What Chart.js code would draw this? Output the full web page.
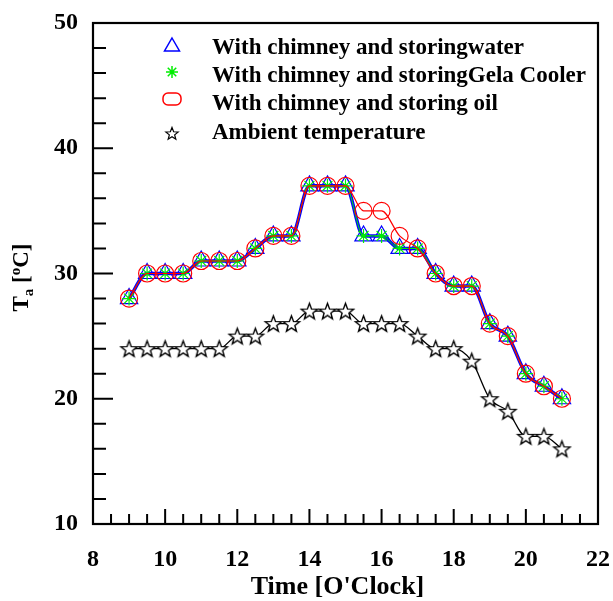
<!DOCTYPE html>
<html>
<head>
<meta charset="utf-8">
<script src="https://cdn.jsdelivr.net/npm/chart.js@4/dist/chart.umd.min.js"></script>
<style>
  html, body { margin: 0; padding: 0; background: #fff; }
  #wrap { width: 613px; height: 601px; }
</style>
</head>
<body>
<div id="wrap"><canvas id="myChart" width="613" height="601"></canvas></div>
<script>
// time of day [h]
var hours = [9, 9.5, 10, 10.5, 11, 11.5, 12, 12.5, 13, 13.5, 14, 14.5, 15,
             15.5, 16, 16.5, 17, 17.5, 18, 18.5, 19, 19.5, 20, 20.5, 21];

// air temperature Ta [oC]
var water_temp   = [28, 30, 30, 30, 31, 31, 31, 32, 33, 33, 37, 37, 37, 33, 33, 32, 32, 30, 29, 29, 26, 25, 22, 21, 20];
var gel_temp     = [28, 30, 30, 30, 31, 31, 31, 32, 33, 33, 37, 37, 37, 33, 33, 32, 32, 30, 29, 29, 26, 25, 22, 21, 20];
var oil_temp     = [28, 30, 30, 30, 31, 31, 31, 32, 33, 33, 37, 37, 37, 35, 35, 33, 32, 30, 29, 29, 26, 25, 22, 21, 20];
var ambient_temp = [24, 24, 24, 24, 24, 24, 25, 25, 26, 26, 27, 27, 27, 26, 26, 26, 25, 24, 24, 23, 20, 19, 17, 17, 16];

var y_ticks = [10, 20, 30, 40, 50];
var x_ticks = [8, 10, 12, 14, 16, 18, 20, 22];

var labels = ['With chimney and storingwater',
              'With chimney and storingGela Cooler',
              'With chimney and storing oil',
              'Ambient temperature'];

var serif = '"Liberation Serif", "Times New Roman", serif';

function to_points(vals) {
    var arr = [];
    for (var i = 0; i < hours.length; i++) {
        arr.push({x: hours[i], y: vals[i]});
    }
    return arr;
}

// outlined five point star, used for the ambient curve
function star_path(ctx, cx, cy, r_out, r_in) {
    ctx.beginPath();
    for (var k = 0; k < 10; k++) {
        var r = (k % 2 == 0) ? r_out : r_in;
        var a = -Math.PI / 2 + k * Math.PI / 5;
        var px = cx + r * Math.cos(a), py = cy + r * Math.sin(a);
        if (k == 0) ctx.moveTo(px, py); else ctx.lineTo(px, py);
    }
    ctx.closePath();
}

function make_star(r_out) {
    var size = Math.ceil(r_out * 2 + 4);
    var c = document.createElement('canvas');
    c.width = size; c.height = size;
    var g = c.getContext('2d');
    star_path(g, size / 2, size / 2 + 0.8, r_out, r_out * 0.42);
    g.fillStyle = '#fff';
    g.fill();
    g.lineWidth = 1.4;
    g.strokeStyle = '#000';
    g.stroke();
    return c;
}

var star_img = make_star(8.5);

// frame, inward ticks, legend and axis titles
var decorations = {
    id: 'decorations',
    afterDraw: function(chart) {
        var ctx = chart.ctx;
        var a = chart.chartArea;
        var xs = chart.scales.x, ys = chart.scales.y;
        ctx.save();
        ctx.strokeStyle = '#000';
        ctx.lineWidth = 2.2;
        ctx.strokeRect(a.left, a.top, a.right - a.left, a.bottom - a.top);

        ctx.lineWidth = 2;
        ctx.beginPath();
        for (var v = 10; v <= 50; v += 2) {
            var py = ys.getPixelForValue(v);
            var len = (v % 10 == 0) ? 20 : 13;
            ctx.moveTo(a.left, py);
            ctx.lineTo(a.left + len, py);
        }
        for (var h = 8; h <= 22; h += 0.5) {
            var px = xs.getPixelForValue(h);
            var len2 = (h % 2 == 0) ? 15 : 10;
            ctx.moveTo(px, a.bottom);
            ctx.lineTo(px, a.bottom - len2);
        }
        ctx.stroke();

        // legend
        var lx = 172, tx = 212;
        var rows = [45, 72, 99, 134];
        var base = [54, 82, 110, 139];
        ctx.fillStyle = '#000';
        ctx.font = 'bold 23px ' + serif;
        ctx.textBaseline = 'alphabetic';
        ctx.textAlign = 'left';
        for (var i = 0; i < labels.length; i++) {
            ctx.fillText(labels[i], tx, base[i]);
        }
        // triangle
        ctx.strokeStyle = '#0000ff';
        ctx.lineWidth = 1.5;
        ctx.beginPath();
        ctx.moveTo(lx, rows[0] - 7);
        ctx.lineTo(lx + 7.5, rows[0] + 6);
        ctx.lineTo(lx - 7.5, rows[0] + 6);
        ctx.closePath();
        ctx.stroke();
        // asterisk
        ctx.strokeStyle = '#00ee00';
        ctx.beginPath();
        for (var k = 0; k < 4; k++) {
            var ang = k * Math.PI / 4;
            ctx.moveTo(lx - 6 * Math.cos(ang), rows[1] - 6 * Math.sin(ang));
            ctx.lineTo(lx + 6 * Math.cos(ang), rows[1] + 6 * Math.sin(ang));
        }
        ctx.stroke();
        // rounded box for the oil series
        ctx.strokeStyle = '#ff0000';
        ctx.beginPath();
        ctx.roundRect(lx - 9, rows[2] - 6, 18, 12, 5);
        ctx.stroke();
        // star
        star_path(ctx, lx, rows[3], 6.5, 2.8);
        ctx.strokeStyle = '#000';
        ctx.lineWidth = 1.2;
        ctx.stroke();

        // axis titles
        ctx.fillStyle = '#000';
        ctx.font = 'bold 26px ' + serif;
        ctx.textAlign = 'center';
        ctx.textBaseline = 'alphabetic';
        ctx.fillText("Time [O'Clock]", (a.left + a.right) / 2 - 8, 594);

        ctx.translate(28, (a.top + a.bottom) / 2 + 4);
        ctx.rotate(-Math.PI / 2);
        var big = 'bold 23px ' + serif, small = 'bold 15px ' + serif;
        var parts = [['T', big, 0], ['a', small, 5], [' [', big, 0], ['o', small, -8], ['C]', big, 0]];
        var total = 0;
        for (var j = 0; j < parts.length; j++) {
            ctx.font = parts[j][1];
            total += ctx.measureText(parts[j][0]).width;
        }
        var cur = -total / 2;
        ctx.textAlign = 'left';
        for (var j2 = 0; j2 < parts.length; j2++) {
            ctx.font = parts[j2][1];
            ctx.fillText(parts[j2][0], cur, parts[j2][2]);
            cur += ctx.measureText(parts[j2][0]).width;
        }
        ctx.restore();
    }
};

var ctx = document.getElementById('myChart').getContext('2d');
var myChart = new Chart(ctx, {
    type: 'line',
    data: {
        datasets: [
            {
                label: labels[3],
                data: to_points(ambient_temp),
                borderColor: '#000',
                borderWidth: 1.3,
                pointStyle: star_img,
                cubicInterpolationMode: 'monotone',
                order: 4
            },
            {
                label: labels[0],
                data: to_points(water_temp),
                borderColor: '#0000ff',
                borderWidth: 3.5,
                pointStyle: 'triangle',
                pointRadius: 10,
                pointBorderColor: '#0000ff',
                pointBorderWidth: 1.2,
                pointBackgroundColor: 'rgba(0,0,0,0)',
                cubicInterpolationMode: 'monotone',
                order: 3
            },
            {
                label: labels[1],
                data: to_points(gel_temp),
                borderColor: '#00ee00',
                borderWidth: 1,
                pointStyle: 'star',
                pointRadius: 7,
                pointBorderColor: '#00ee00',
                pointBorderWidth: 1.2,
                cubicInterpolationMode: 'monotone',
                order: 2
            },
            {
                label: labels[2],
                data: to_points(oil_temp),
                borderColor: '#ff0000',
                borderWidth: 1.2,
                pointStyle: 'circle',
                pointRadius: 8.5,
                pointBorderColor: '#ff0000',
                pointBorderWidth: 1.2,
                pointBackgroundColor: 'rgba(0,0,0,0)',
                cubicInterpolationMode: 'monotone',
                order: 1
            }
        ]
    },
    options: {
        responsive: false,
        animation: false,
        events: [],
        layout: { padding: { top: 23, right: 15, left: 0, bottom: 0 } },
        plugins: {
            legend: { display: false },
            tooltip: { enabled: false }
        },
        scales: {
            x: {
                type: 'linear',
                min: 8, max: 22,
                afterBuildTicks: function(scale) {
                    scale.ticks = x_ticks.map(function(v) { return {value: v}; });
                },
                afterFit: function(scale) {
                    scale.height = 77;
                    scale.paddingLeft = 0;
                    scale.paddingRight = 0;
                },
                grid: { display: false, drawTicks: false },
                border: { display: false },
                ticks: {
                    padding: 21,
                    maxRotation: 0,
                    color: '#000',
                    font: { family: serif, size: 24, weight: 'bold' }
                }
            },
            y: {
                min: 10, max: 50,
                afterBuildTicks: function(scale) {
                    scale.ticks = y_ticks.map(function(v) { return {value: v}; });
                },
                afterFit: function(scale) {
                    scale.width = 93;
                    scale.paddingTop = 0;
                    scale.paddingBottom = 0;
                },
                grid: { display: false, drawTicks: false },
                border: { display: false },
                ticks: {
                    padding: 15,
                    color: '#000',
                    font: { family: serif, size: 24, weight: 'bold' }
                }
            }
        }
    },
    plugins: [decorations]
});
</script>
</body>
</html>
